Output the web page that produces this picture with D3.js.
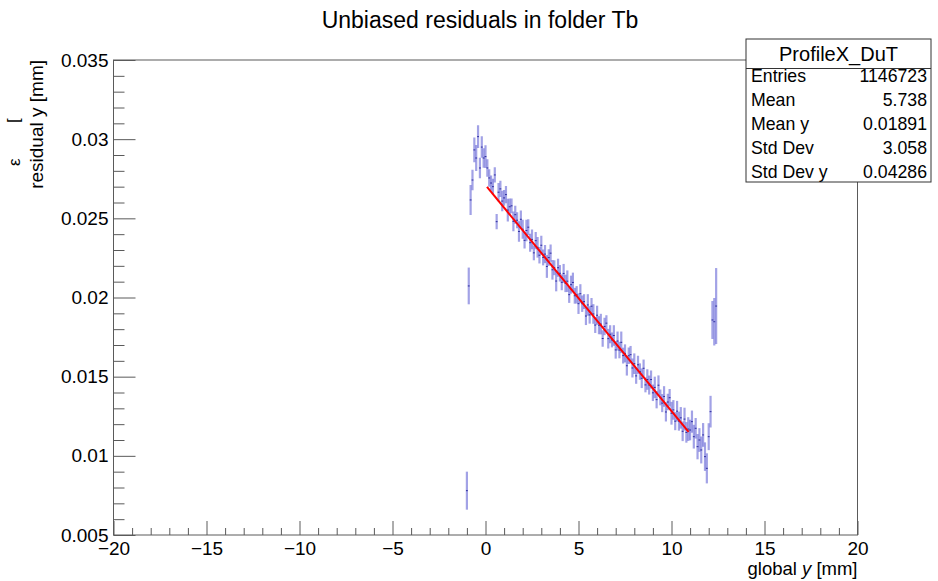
<!DOCTYPE html>
<html>
<head>
<meta charset="utf-8">
<script src="https://cdn.jsdelivr.net/npm/d3@7"></script>
<style>
  html, body { margin: 0; padding: 0; background: #fff; }
  svg { display: block; font-family: "Liberation Sans", Arial, Helvetica, sans-serif; }
</style>
</head>
<body>
<svg id="chart" width="938" height="581"></svg>
<script>
// ---------------- data ----------------
const chartTitle = "Unbiased residuals in folder Tb";
const xTitle = "global ";
const yTitle = "residual y [mm]";

const xTicks = [-20, -15, -10, -5, 0, 5, 10, 15, 20];
const xTickLabels = ["\u221220", "\u221215", "\u221210", "\u22125", "0", "5", "10", "15", "20"];
const yTicks = [0.005, 0.01, 0.015, 0.02, 0.025, 0.03, 0.035];
const yTickLabels = ["0.005", "0.01", "0.015", "0.02", "0.025", "0.03", "0.035"];

// profile bin centres (global y, mm)
const binX = [
  -1.0, -0.9, -0.8, -0.7, -0.6, -0.5, -0.4, -0.3, -0.2, -0.1,
  0.0, 0.1, 0.2, 0.3, 0.4, 0.5, 0.6, 0.7, 0.8, 0.9,
  1.0, 1.1, 1.2, 1.3, 1.4, 1.5, 1.6, 1.7, 1.8, 1.9,
  2.0, 2.1, 2.2, 2.3, 2.4, 2.5, 2.6, 2.7, 2.8, 2.9,
  3.0, 3.1, 3.2, 3.3, 3.4, 3.5, 3.6, 3.7, 3.8, 3.9,
  4.0, 4.1, 4.2, 4.3, 4.4, 4.5, 4.6, 4.7, 4.8, 4.9,
  5.0, 5.1, 5.2, 5.3, 5.4, 5.5, 5.6, 5.7, 5.8, 5.9,
  6.0, 6.1, 6.2, 6.3, 6.4, 6.5, 6.6, 6.7, 6.8, 6.9,
  7.0, 7.1, 7.2, 7.3, 7.4, 7.5, 7.6, 7.7, 7.8, 7.9,
  8.0, 8.1, 8.2, 8.3, 8.4, 8.5, 8.6, 8.7, 8.8, 8.9,
  9.0, 9.1, 9.2, 9.3, 9.4, 9.5, 9.6, 9.7, 9.8, 9.9,
  10.0, 10.1, 10.2, 10.3, 10.4, 10.5, 10.6, 10.7, 10.8, 10.9,
  11.0, 11.1, 11.2, 11.3, 11.4, 11.5, 11.6, 11.7, 11.8, 11.9,
  12.0, 12.1, 12.2, 12.3, 12.4
];
// mean residual y (mm)
const binMean = [
  0.00780, 0.02073, 0.02616, 0.02742, 0.02932, 0.02881, 0.03016, 0.02818, 0.02950, 0.02881,
  0.02890, 0.02818, 0.02755, 0.02723, 0.02700, 0.02774, 0.02479, 0.02665, 0.02686, 0.02609,
  0.02629, 0.02650, 0.02552, 0.02573, 0.02579, 0.02481, 0.02523, 0.02488, 0.02417, 0.02494,
  0.02431, 0.02361, 0.02423, 0.02444, 0.02346, 0.02367, 0.02282, 0.02359, 0.02317, 0.02267,
  0.02330, 0.02253, 0.02274, 0.02196, 0.02252, 0.02280, 0.02175, 0.02188, 0.02104, 0.02188,
  0.02153, 0.02096, 0.02152, 0.02089, 0.02103, 0.02018, 0.02081, 0.02095, 0.02011, 0.02017,
  0.01961, 0.02024, 0.01961, 0.01974, 0.01883, 0.01953, 0.01890, 0.01945, 0.01896, 0.01826,
  0.01888, 0.01825, 0.01832, 0.01741, 0.01817, 0.01838, 0.01740, 0.01768, 0.01732, 0.01760,
  0.01669, 0.01725, 0.01668, 0.01717, 0.01633, 0.01647, 0.01569, 0.01632, 0.01639, 0.01555,
  0.01582, 0.01505, 0.01575, 0.01532, 0.01490, 0.01553, 0.01448, 0.01482, 0.01447, 0.01482,
  0.01398, 0.01432, 0.01355, 0.01446, 0.01369, 0.01333, 0.01375, 0.01277, 0.01340, 0.01367,
  0.01269, 0.01290, 0.01219, 0.01282, 0.01219, 0.01240, 0.01155, 0.01232, 0.01148, 0.01169,
  0.01163, 0.01216, 0.01121, 0.01174, 0.01058, 0.01100, 0.01037, 0.01132, 0.00995, 0.00921,
  0.01121, 0.01279, 0.01858, 0.01847, 0.01946
];
// error on the mean (mm)
const binErr = [
  0.00120, 0.00116, 0.00095, 0.00065, 0.00078, 0.00082, 0.00072, 0.00065, 0.00068, 0.00062,
  0.00072, 0.00055, 0.00055, 0.00048, 0.00050, 0.00048, 0.00048,
  0.00058, 0.00052, 0.00065, 0.00050, 0.00055, 0.00072, 0.00052, 0.00047, 0.00062, 0.00057,
  0.00050, 0.00065, 0.00055, 0.00060, 0.00052, 0.00068, 0.00050, 0.00057, 0.00062, 0.00047,
  0.00055, 0.00065, 0.00052, 0.00060, 0.00050, 0.00057, 0.00072, 0.00052, 0.00055, 0.00062,
  0.00047, 0.00065, 0.00057, 0.00052, 0.00050, 0.00060, 0.00055, 0.00068, 0.00052, 0.00057,
  0.00062, 0.00050, 0.00055, 0.00065, 0.00060, 0.00052, 0.00047, 0.00057, 0.00068, 0.00055,
  0.00052, 0.00062, 0.00050, 0.00060, 0.00057, 0.00065, 0.00052, 0.00055, 0.00050, 0.00062,
  0.00057, 0.00047, 0.00065, 0.00055, 0.00060, 0.00052, 0.00068, 0.00050, 0.00057, 0.00062,
  0.00052, 0.00055, 0.00060, 0.00065, 0.00050, 0.00057, 0.00052, 0.00062, 0.00055, 0.00047,
  0.00065, 0.00060, 0.00057, 0.00052, 0.00068, 0.00055, 0.00062, 0.00050, 0.00057, 0.00065,
  0.00060, 0.00052, 0.00055, 0.00072, 0.00062, 0.00057, 0.00065, 0.00060, 0.00068, 0.00062,
  0.00072, 0.00065, 0.00075,
  0.00065, 0.00070, 0.00075, 0.00065, 0.00080, 0.00075, 0.00085, 0.00075, 0.00090, 0.00095,
  0.00085, 0.00100, 0.00120, 0.00150, 0.00240
];
const binHalfWidth = 0.05;

// linear fit (pol1) drawn over its range
const fitX = [0.08, 10.92];
const fitY = [0.02698, 0.01152];

// statistics box
const statTitle = "ProfileX_DuT";
const statLabels = ["Entries", "Mean", "Mean y", "Std Dev", "Std Dev y"];
const statValues = ["1146723", "5.738", "0.01891", "3.058", "0.04286"];

// ---------------- layout ----------------
const svg = d3.select("#chart");
const plot = { left: 113.5, right: 857.5, top: 60, bottom: 535 };

const x = d3.scaleLinear().domain([-20, 20]).range([plot.left, plot.right]);
const y = d3.scaleLinear().domain([0.005, 0.035]).range([plot.bottom, plot.top]);

const axisColor = "#5a5a5a";

svg.append("defs").append("clipPath").attr("id", "clip")
  .append("rect")
  .attr("x", plot.left).attr("y", plot.top)
  .attr("width", plot.right - plot.left).attr("height", plot.bottom - plot.top);

// frame
svg.append("rect")
  .attr("x", plot.left).attr("y", plot.top)
  .attr("width", plot.right - plot.left).attr("height", plot.bottom - plot.top)
  .attr("fill", "none").attr("stroke", axisColor).attr("stroke-width", 1);

// x axis: major + minor (inward ticks, ROOT style)
const xMinor = d3.range(-20, 20.001, 1).filter(v => xTicks.indexOf(v) < 0);
const gxMinor = svg.append("g").attr("transform", `translate(0,${plot.bottom})`)
  .call(d3.axisBottom(x).tickValues(xMinor).tickSizeInner(-7).tickSizeOuter(0).tickFormat(""));
const gx = svg.append("g").attr("transform", `translate(0,${plot.bottom})`)
  .call(d3.axisBottom(x).tickValues(xTicks).tickSizeInner(-14).tickSizeOuter(0).tickPadding(6.5)
    .tickFormat((d, i) => xTickLabels[i]));

// y axis
const yMinor = d3.range(5, 35.001, 1).map(v => v / 1000).filter(v => !yTicks.some(t => Math.abs(t - v) < 1e-9));
const gyMinor = svg.append("g").attr("transform", `translate(${plot.left},0)`)
  .call(d3.axisLeft(y).tickValues(yMinor).tickSizeInner(-11).tickSizeOuter(0).tickFormat(""));
const gy = svg.append("g").attr("transform", `translate(${plot.left},0)`)
  .call(d3.axisLeft(y).tickValues(yTicks).tickSizeInner(-22).tickSizeOuter(0).tickPadding(5)
    .tickFormat((d, i) => yTickLabels[i]));

[gx, gy, gxMinor, gyMinor].forEach(g => {
  g.select(".domain").remove();
  g.selectAll(".tick line").attr("stroke", axisColor);
  g.selectAll(".tick text").attr("fill", "#000").attr("font-size", 19)
    .attr("font-family", "'Liberation Sans', Arial, sans-serif");
});

// ---------------- data marks ----------------
const bins = binX.map((bx, i) => ({ x: bx, m: binMean[i], e: binErr[i] }));
const gData = svg.append("g").attr("clip-path", "url(#clip)");

gData.selectAll("line.err").data(bins).join("line")
  .attr("class", "err")
  .attr("x1", d => x(d.x)).attr("x2", d => x(d.x))
  .attr("y1", d => y(d.m - d.e)).attr("y2", d => y(d.m + d.e))
  .attr("stroke", "rgb(70,70,205)").attr("stroke-opacity", 0.5).attr("stroke-width", 2.2);

gData.selectAll("line.bin").data(bins).join("line")
  .attr("class", "bin")
  .attr("x1", d => x(d.x - binHalfWidth)).attr("x2", d => x(d.x + binHalfWidth))
  .attr("y1", d => y(d.m)).attr("y2", d => y(d.m))
  .attr("stroke", "rgb(30,30,150)").attr("stroke-opacity", 0.9).attr("stroke-width", 1);

// fit line
gData.append("path")
  .datum(fitX.map((fx, i) => [fx, fitY[i]]))
  .attr("d", d3.line().x(d => x(d[0])).y(d => y(d[1])))
  .attr("fill", "none").attr("stroke", "#ff0000").attr("stroke-width", 2);

// ---------------- texts ----------------
svg.append("text")
  .attr("x", 480).attr("y", 28).attr("text-anchor", "middle")
  .attr("font-size", 23).attr("fill", "#000").text(chartTitle);

const xt = svg.append("text")
  .attr("x", plot.right).attr("y", 575).attr("text-anchor", "end")
  .attr("font-size", 18.5).attr("fill", "#000");
xt.append("tspan").text(xTitle);
xt.append("tspan").attr("font-style", "italic").text("y");
xt.append("tspan").text(" [mm]");

svg.append("text")
  .attr("transform", `translate(43,${plot.top}) rotate(-90)`)
  .attr("text-anchor", "end").attr("font-size", 19).attr("fill", "#000")
  .text(yTitle);

// stray overlapping label fragments at far left
svg.append("text")
  .attr("transform", "translate(19,123) rotate(-90)")
  .attr("font-size", 17).attr("fill", "#000").text("[");
svg.append("text")
  .attr("transform", "translate(20,166) rotate(-90)")
  .attr("font-size", 17).attr("fill", "#000").text("\u03b5");

// ---------------- stats box ----------------
const box = { x: 746, y: 39, w: 185, h: 143, titleH: 29.5 };
const gs = svg.append("g");
gs.append("rect")
  .attr("x", box.x).attr("y", box.y).attr("width", box.w).attr("height", box.h)
  .attr("fill", "#fff").attr("stroke", "#333").attr("stroke-width", 1);
gs.append("line")
  .attr("x1", box.x).attr("x2", box.x + box.w)
  .attr("y1", box.y + box.titleH).attr("y2", box.y + box.titleH)
  .attr("stroke", "#333").attr("stroke-width", 1);
gs.append("text")
  .attr("x", box.x + box.w / 2).attr("y", box.y + 22).attr("text-anchor", "middle")
  .attr("font-size", 20).attr("fill", "#000").text(statTitle);
const rowY = d3.scaleLinear().domain([0, statLabels.length - 1]).range([box.y + 43, box.y + 139]);
gs.selectAll("text.sl").data(statLabels).join("text")
  .attr("class", "sl")
  .attr("x", box.x + 5).attr("y", (d, i) => rowY(i))
  .attr("font-size", 17.7).attr("fill", "#000").text(d => d);
gs.selectAll("text.sv").data(statValues).join("text")
  .attr("class", "sv")
  .attr("x", box.x + box.w - 4).attr("y", (d, i) => rowY(i)).attr("text-anchor", "end")
  .attr("font-size", 17.7).attr("fill", "#000").text(d => d);
</script>
</body>
</html>
